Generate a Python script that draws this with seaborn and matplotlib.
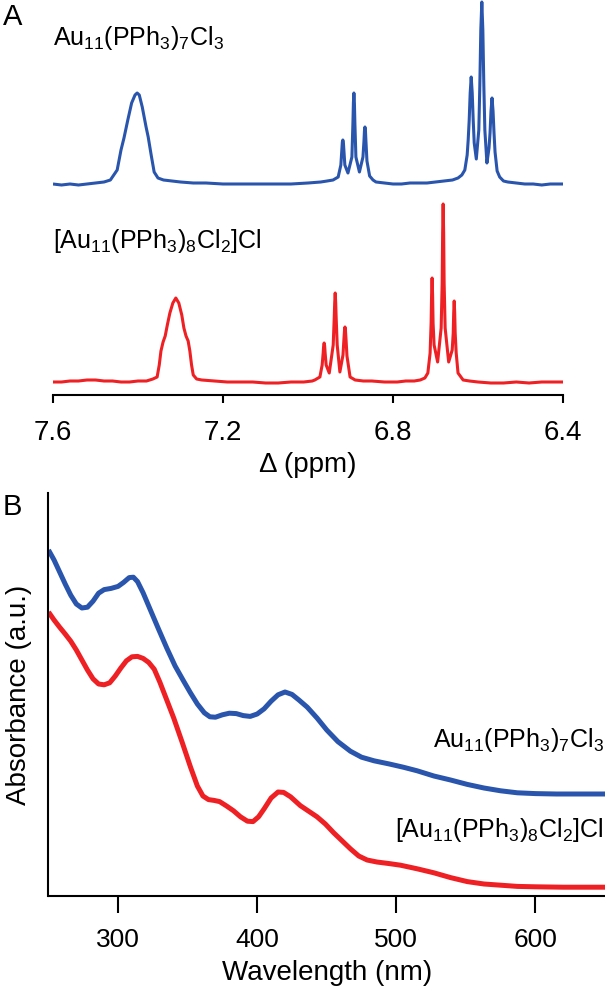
import matplotlib
matplotlib.use("Agg")
import matplotlib.pyplot as plt
import numpy as np
import pandas as pd
import seaborn as sns

# NMR spectrum of Au11(PPh3)7Cl3 (ppm, intensity in a.u.)
nmr_blue_ppm = [7.600, 7.580, 7.560, 7.540, 7.520, 7.500, 7.480, 7.465, 7.449, 7.440,
                7.433, 7.424, 7.415, 7.407, 7.402, 7.397, 7.390, 7.381, 7.376, 7.369,
                7.362, 7.353, 7.340, 7.320, 7.300, 7.270, 7.240, 7.200, 7.160, 7.120,
                7.080, 7.040, 7.000, 6.970, 6.955, 6.941, 6.929, 6.9227, 6.9204, 6.9192,
                6.918, 6.9168, 6.9156, 6.9133, 6.906, 6.8967, 6.8943, 6.8932, 6.892, 6.8908,
                6.8897, 6.8873, 6.879, 6.8707, 6.8683, 6.8672, 6.866, 6.8648, 6.8637, 6.8613,
                6.855, 6.847, 6.840, 6.820, 6.800, 6.780, 6.760, 6.740, 6.720, 6.700,
                6.680, 6.660, 6.647, 6.638, 6.631, 6.6255, 6.6231, 6.6207, 6.6184, 6.616,
                6.6136, 6.6113, 6.6089, 6.604, 6.5981, 6.5957, 6.5934, 6.591, 6.5886, 6.5863,
                6.5839, 6.579, 6.5741, 6.5717, 6.5694, 6.567, 6.5646, 6.5623, 6.5599, 6.555,
                6.549, 6.540, 6.530, 6.510, 6.490, 6.470, 6.450, 6.430, 6.400]
nmr_blue_int = [1, 0, 1, 0, 1, 2, 3, 5, 15, 35,
                47, 65, 82, 90, 92, 90, 78, 58, 48, 30,
                13, 7, 5, 4, 3, 2, 2, 1, 1, 1,
                1, 1, 2, 3, 4, 5, 8, 20, 35, 43,
                45, 43, 35, 20, 12, 28, 62, 82, 92, 82,
                62, 28, 13, 28, 44, 54, 58, 54, 44, 24,
                9, 5, 3, 2, 1, 1, 2, 2, 2, 3,
                4, 5, 7, 10, 15, 30, 45, 65, 92, 108,
                92, 65, 42, 26, 55, 100, 155, 183, 155, 100,
                55, 22, 37, 52, 74, 87, 74, 52, 33, 14,
                8, 4, 3, 2, 1, 1, 0, 1, 1]

# NMR spectrum of [Au11(PPh3)8Cl2]Cl
nmr_red_ppm = [7.600, 7.580, 7.560, 7.540, 7.520, 7.500, 7.480, 7.460, 7.440, 7.420,
               7.400, 7.380, 7.365, 7.355, 7.350, 7.346, 7.341, 7.336, 7.331, 7.325,
               7.318, 7.311, 7.304, 7.297, 7.292, 7.287, 7.282, 7.278, 7.274, 7.270,
               7.262, 7.250, 7.220, 7.190, 7.160, 7.130, 7.100, 7.070, 7.040, 7.010,
               6.990, 6.984, 6.972, 6.9667, 6.9643, 6.9632, 6.962, 6.9608, 6.9597, 6.9573,
               6.950, 6.9407, 6.9383, 6.9372, 6.936, 6.9348, 6.9337, 6.9313, 6.925, 6.9177,
               6.9153, 6.9142, 6.913, 6.9118, 6.9107, 6.9083, 6.901, 6.889, 6.870, 6.850,
               6.820, 6.790, 6.770, 6.750, 6.736, 6.725, 6.718, 6.7127, 6.7103, 6.7092,
               6.708, 6.7068, 6.7057, 6.7033, 6.695, 6.6867, 6.6843, 6.6832, 6.682, 6.6808,
               6.6797, 6.6773, 6.669, 6.6607, 6.6583, 6.6572, 6.656, 6.6548, 6.6537, 6.6513,
               6.647, 6.635, 6.620, 6.600, 6.570, 6.540, 6.510, 6.480, 6.450, 6.420,
               6.400]
nmr_red_int = [1, 1, 2, 2, 3, 3, 2, 2, 1, 1,
               2, 2, 4, 6, 18, 32, 41, 47, 58, 70,
               80, 85, 80, 68, 55, 47, 42, 32, 18, 8,
               4, 3, 2, 1, 1, 1, 0, 0, 1, 1,
               2, 3, 6, 18, 30, 37, 40, 37, 30, 18,
               10, 38, 65, 80, 90, 80, 65, 38, 11, 28,
               45, 52, 56, 52, 45, 27, 6, 3, 2, 2,
               1, 1, 2, 2, 3, 5, 10, 30, 60, 88,
               105, 88, 60, 38, 21, 55, 100, 150, 179, 150,
               100, 55, 21, 33, 50, 70, 82, 70, 50, 30,
               10, 3, 2, 1, 0, 0, 1, 0, 1, 1,
               1]

blue_offset = 198

# UV-vis spectra (nm, absorbance a.u.)
uv_blue_nm = [250, 254, 258, 262, 266, 270, 274, 278, 282, 286,
              290, 295, 300, 304, 308, 311, 314, 318, 323, 329,
              335, 341, 347, 352, 357, 362, 366, 370, 375, 380,
              385, 390, 395, 400, 405, 410, 415, 420, 425, 430,
              436, 443, 450, 458, 467, 475, 484, 495, 505, 515,
              527, 539, 551, 563, 575, 587, 600, 615, 630, 650]
uv_blue_abs = [0.865, 0.840, 0.810, 0.780, 0.752, 0.730, 0.720, 0.722, 0.737, 0.757,
               0.766, 0.769, 0.774, 0.784, 0.796, 0.797, 0.786, 0.758, 0.717, 0.668,
               0.620, 0.575, 0.538, 0.508, 0.480, 0.458, 0.448, 0.447, 0.453, 0.457,
               0.456, 0.451, 0.449, 0.455, 0.468, 0.487, 0.503, 0.510, 0.504, 0.490,
               0.472, 0.445, 0.415, 0.386, 0.362, 0.347, 0.338, 0.330, 0.322, 0.313,
               0.300, 0.290, 0.279, 0.270, 0.263, 0.258, 0.256, 0.255, 0.255, 0.255]

uv_red_nm = [250, 254, 258, 262, 266, 270, 274, 278, 282, 286,
             290, 294, 298, 302, 306, 310, 314, 318, 322, 326,
             330, 335, 340, 346, 352, 357, 361, 365, 369, 373,
             378, 383, 388, 393, 397, 401, 405, 410, 415, 419,
             424, 431, 437, 443, 449, 455, 461, 467, 473, 479,
             486, 495, 503, 515, 527, 539, 551, 563, 575, 587,
             600, 620, 650]
uv_red_abs = [0.710, 0.690, 0.672, 0.655, 0.637, 0.615, 0.590, 0.565, 0.543, 0.530,
              0.528, 0.533, 0.550, 0.570, 0.588, 0.598, 0.599, 0.594, 0.584, 0.567,
              0.535, 0.490, 0.445, 0.385, 0.323, 0.275, 0.250, 0.241, 0.239, 0.236,
              0.225, 0.213, 0.198, 0.187, 0.186, 0.198, 0.218, 0.245, 0.260, 0.259,
              0.248, 0.226, 0.212, 0.198, 0.180, 0.158, 0.138, 0.118, 0.100, 0.090,
              0.085, 0.081, 0.077, 0.068, 0.058, 0.046, 0.036, 0.030, 0.027, 0.024,
              0.023, 0.022, 0.022]

label_blue = r"Au$_{11}$(PPh$_3$)$_7$Cl$_3$"
label_red = r"[Au$_{11}$(PPh$_3$)$_8$Cl$_2$]Cl"

BLUE = "#2a55ad"
RED = "#ee2024"

sns.set_theme(style="ticks")
plt.rcParams["font.family"] = ["Liberation Sans", "DejaVu Sans"]
plt.rcParams["mathtext.fontset"] = "custom"
plt.rcParams["mathtext.rm"] = "Liberation Sans"
plt.rcParams["mathtext.default"] = "regular"
plt.rcParams["text.color"] = "black"
plt.rcParams["axes.labelcolor"] = "black"
plt.rcParams["xtick.color"] = "black"
plt.rcParams["xtick.labelcolor"] = "black"
plt.rcParams["lines.solid_joinstyle"] = "round"
plt.rcParams["lines.solid_capstyle"] = "butt"

fig = plt.figure(figsize=(6.05, 9.9), dpi=100)

# Panel A: NMR
ax1 = fig.add_axes([53 / 605, 1 - 395 / 990, 510 / 605, 395 / 990])
blue_df = pd.DataFrame({"ppm": nmr_blue_ppm, "y": np.array(nmr_blue_int) + blue_offset})
red_df = pd.DataFrame({"ppm": nmr_red_ppm, "y": nmr_red_int})
sns.lineplot(data=blue_df, x="ppm", y="y", ax=ax1, color=BLUE, lw=2.2,
             sort=False, estimator=None)
sns.lineplot(data=red_df, x="ppm", y="y", ax=ax1, color=RED, lw=2.2,
             sort=False, estimator=None)
ax1.set_xlim(7.6, 6.4)
ax1.set_ylim(-12, 383)
ax1.set_xticks([7.6, 7.2, 6.8, 6.4])
ax1.set_xticklabels(["7.6", "7.2", "6.8", "6.4"])
ax1.set_yticks([])
ax1.set_ylabel("")
ax1.set_xlabel("\u0394 (ppm)", fontsize=20, labelpad=4)
for s in ["left", "right", "top"]:
    ax1.spines[s].set_visible(False)
ax1.spines["bottom"].set_linewidth(1.5)
ax1.spines["bottom"].set_color("black")
ax1.tick_params(axis="x", direction="out", length=6, width=1.5, pad=12,
                labelsize=20, color="black")
ax1.patch.set_alpha(0)
ax1.text(7.6, 338, label_blue, fontsize=18, ha="left", va="baseline")
ax1.text(7.6, 135, label_red, fontsize=18, ha="left", va="baseline")

# Panel B: UV-vis
ax2 = fig.add_axes([48.5 / 605, 1 - 896 / 990, 556.5 / 605, 403 / 990])
uvb = pd.DataFrame({"nm": uv_blue_nm, "A": uv_blue_abs})
uvr = pd.DataFrame({"nm": uv_red_nm, "A": uv_red_abs})
sns.lineplot(data=uvb, x="nm", y="A", ax=ax2, color=BLUE, lw=3.6,
             sort=False, estimator=None)
sns.lineplot(data=uvr, x="nm", y="A", ax=ax2, color=RED, lw=3.6,
             sort=False, estimator=None)
ax2.set_xlim(250, 650)
ax2.set_ylim(0, 1.0075)
ax2.set_xticks([300, 400, 500, 600])
ax2.set_yticks([])
ax2.set_xlabel("Wavelength (nm)", fontsize=20, labelpad=6)
ax2.set_ylabel("Absorbance (a.u.)", fontsize=20, labelpad=12)
for s in ["right", "top"]:
    ax2.spines[s].set_visible(False)
for s in ["left", "bottom"]:
    ax2.spines[s].set_linewidth(1.5)
    ax2.spines[s].set_color("black")
ax2.tick_params(axis="x", direction="out", length=12, width=1.5, pad=11,
                labelsize=19, color="black")
ax2.patch.set_alpha(0)
ax2.text(649, 0.3725, label_blue, fontsize=18, ha="right", va="baseline")
ax2.text(649, 0.1475, label_red, fontsize=18, ha="right", va="baseline")

fig.text(3 / 605, 1 - 25 / 990, "A", fontsize=21, ha="left", va="baseline")
fig.text(3 / 605, 1 - 515 / 990, "B", fontsize=21, ha="left", va="baseline")

fig.savefig("out.png", dpi=100)
